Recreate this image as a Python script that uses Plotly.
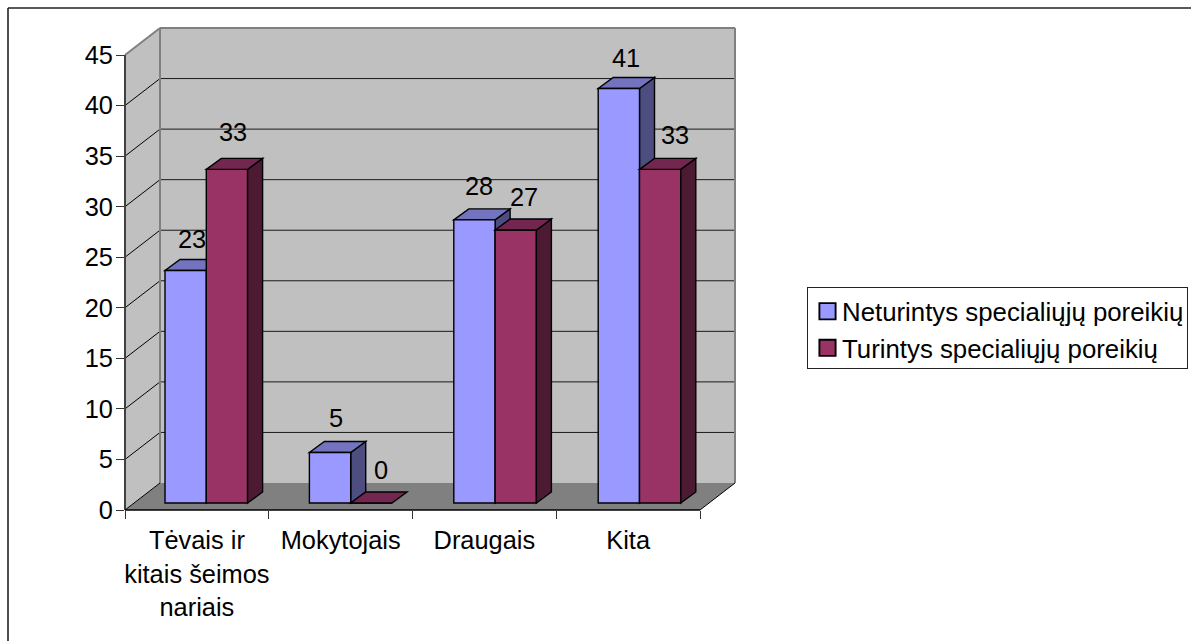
import plotly.graph_objects as go

categories = ["Tėvais ir<br>kitais šeimos<br>nariais", "Mokytojais", "Draugais", "Kita"]
series_a_name = "Neturintys specialiųjų poreikių"
series_b_name = "Turintys specialiųjų poreikių"
series_a = [23, 5, 28, 41]
series_b = [33, 0, 27, 33]
y_ticks = [0, 5, 10, 15, 20, 25, 30, 35, 40, 45]

FONT = "Liberation Sans, Arial, sans-serif"
FS = 25.4
FS_LEG = 25.8
W, H = 1191, 641
L, R, T, B = 125, 735, 28, 510          # plot area in pixels
PXX = 575 / 4                            # pixels per category
PXY = 455 / 45                           # pixels per y unit
WALL_DX, WALL_DY = 35, 27                # depth of the box
BAR_DX, BAR_DY = 15, 11                  # depth of the bars
BASE = 7 / PXY                           # bars stand a little behind the axis
BAR_W = 41.3 / PXX
PITCH = 144.4 / PXX                      # bar groups sit on the receding floor
OFF_A = (165 - L) / PXX
OFF_B = OFF_A + BAR_W

A_FRONT, A_TOP, A_SIDE = "#9999FF", "#7373BF", "#4D4D80"
B_FRONT, B_TOP, B_SIDE = "#993366", "#732650", "#4D1A33"
LINE = 1.4

def px(xp):
    return (xp - L) / (R - L)

def py(yp):
    return (B - yp) / (B - T)

def poly(points, fill, layer, line_color="black", line_width=LINE, xref="x", yref="y"):
    path = "M" + " L".join(f"{a},{b}" for a, b in points) + " Z"
    return dict(type="path", path=path, fillcolor=fill, layer=layer, xref=xref, yref=yref,
                line=dict(color=line_color, width=line_width))

def seg(p, q, color, width, layer="below"):
    return dict(type="line", xref="paper", yref="paper", x0=px(p[0]), y0=py(p[1]),
                x1=px(q[0]), y1=py(q[1]), layer=layer, line=dict(color=color, width=width))

def faces(i, value, offset, top, side, layer):
    """Top and side faces of a bar, from its value, through the data axes."""
    x0 = i * PITCH + offset
    x1 = x0 + BAR_W
    y1 = BASE + value
    ddx, ddy = BAR_DX / PXX, BAR_DY / PXY
    out = []
    if value > 0:
        out.append(poly([(x1, BASE), (x1 + ddx, BASE + ddy), (x1 + ddx, y1 + ddy), (x1, y1)], side, layer))
    out.append(poly([(x0, y1), (x1, y1), (x1 + ddx, y1 + ddy), (x0 + ddx, y1 + ddy)], top, layer))
    return out

shapes = []
# box walls and floor
paper = dict(xref="paper", yref="paper", line_color="#808080", line_width=0)
wall_left = [(px(L), py(55)), (px(L + WALL_DX), py(T)), (px(L + WALL_DX), py(B - WALL_DY)), (px(L), py(B))]
wall_back = [(px(L + WALL_DX), py(T)), (px(R), py(T)), (px(R), py(B - WALL_DY)), (px(L + WALL_DX), py(B - WALL_DY))]
floor = [(px(L), py(B)), (px(L + WALL_DX), py(B - WALL_DY)), (px(R), py(B - WALL_DY)), (px(700), py(B))]
shapes.append(poly(wall_left, "#C0C0C0", "below", **paper))
shapes.append(poly(wall_back, "#C0C0C0", "below", **paper))
shapes.append(poly(floor, "#808080", "below", **paper))
# gridlines on the back and left walls
for v in y_ticks[1:-1]:
    yb = B - v * PXY
    shapes.append(seg((L, yb), (L + WALL_DX, yb - WALL_DY), "black", 1))
    shapes.append(seg((L + WALL_DX, yb - WALL_DY), (R, yb - WALL_DY), "#1a1a1a", 1))
# box edges
shapes.append(seg((L, 55), (L + WALL_DX, T), "#808080", 2))
shapes.append(seg((L + WALL_DX, T), (R, T), "#808080", 2))
shapes.append(seg((L + WALL_DX, T), (L + WALL_DX, B - WALL_DY), "#808080", 2))
shapes.append(seg((R, T), (R, B - WALL_DY), "#808080", 2))
shapes.append(seg((L, B), (L + WALL_DX, B - WALL_DY), "black", 1))
shapes.append(seg((700, B), (R, B - WALL_DY), "black", 1))
# axis lines
shapes.append(seg((L, 55), (L, B), "#404040", 2, "above"))
shapes.append(seg((L, B), (700, B), "black", 1.5, "above"))
# outer frame: only top and left fall inside the window
shapes.append(seg((8, 8), (W, 8), "#222222", 1.6, "above"))
shapes.append(seg((8, 8), (8, H), "#222222", 1.6, "above"))

for i, v in enumerate(series_a):
    for s in faces(i, v, OFF_A, A_TOP, A_SIDE, "between"):
        shapes.append(s)
for i, v in enumerate(series_b):
    for s in faces(i, v, OFF_B, B_TOP, B_SIDE, "above"):
        shapes.append(s)

centers = [i + 0.5 for i in range(len(categories))]
bar_x = [i * PITCH for i in range(len(categories))]

fig = go.Figure()
fig.add_trace(go.Bar(name=series_a_name, x=bar_x, y=series_a, base=[BASE] * 4, width=BAR_W, offset=OFF_A,
                     marker=dict(color=A_FRONT, line=dict(color="black", width=LINE))))
fig.add_trace(go.Bar(name=series_b_name, x=bar_x, y=series_b, base=[BASE] * 4, width=BAR_W, offset=OFF_B,
                     marker=dict(color=B_FRONT, line=dict(color="black", width=LINE))))

nudge_a = [(6, 31), (6, 34), (5, 34), (7, 30)]
nudge_b = [(6, 37), (10, 33), (8, 33), (15, 34)]
annotations = []
for vals, off, nudges in ((series_a, OFF_A, nudge_a), (series_b, OFF_B, nudge_b)):
    for i, v in enumerate(vals):
        annotations.append(dict(x=i * PITCH + off + BAR_W / 2, y=BASE + v, text=str(v), showarrow=False,
                                xref="x", yref="y", xanchor="center", yanchor="middle",
                                xshift=nudges[i][0], yshift=nudges[i][1],
                                font=dict(family=FONT, size=FS, color="black")))

fig.update_layout(
    width=W, height=H, autosize=False,
    margin=dict(l=L, r=W - R, t=T, b=H - B, pad=0, autoexpand=False),
    paper_bgcolor="white", plot_bgcolor="rgba(0,0,0,0)",
    barmode="overlay", showlegend=True, hovermode=False,
    font=dict(family=FONT, size=FS, color="black"),
    shapes=shapes, annotations=annotations,
    xaxis=dict(range=[0, (R - L) / PXX], tickmode="array", tickvals=centers, ticktext=categories,
               ticks="outside", ticklen=8, tickcolor="rgba(0,0,0,0)", showgrid=False, zeroline=False,
               showline=False, tickangle=0, tickfont=dict(family=FONT, size=FS),
               minor=dict(tickmode="array", tickvals=list(range(len(categories) + 1)), ticks="outside",
                          ticklen=8, tickcolor="#333333", tickwidth=1.2, showgrid=False)),
    yaxis=dict(range=[0, (B - T) / PXY], tickmode="array", tickvals=y_ticks, ticks="outside", ticklen=8,
               tickcolor="#333333", tickwidth=1.2, showgrid=False, zeroline=False, showline=False,
               ticklabelstandoff=-2, tickfont=dict(family=FONT, size=FS)),
    legend=dict(x=px(807), y=py(287), xanchor="left", yanchor="top", bgcolor="white", bordercolor="#222222",
                borderwidth=1, font=dict(family=FONT, size=FS_LEG), itemwidth=30, traceorder="normal"),
)

# The legend stays native; these lines only tighten its box, text inset and swatch size.
legend_js = """
document.body.style.margin='0';
document.documentElement.style.overflow='hidden';
var lg=document.querySelector('.legend');
if(lg){
  var bg=lg.querySelector('rect.bg');
  if(bg){bg.setAttribute('width',380);bg.setAttribute('height',81);}
  lg.querySelectorAll('text.legendtext').forEach(function(t){
    t.setAttribute('x',parseFloat(t.getAttribute('x'))-6);
  });
  lg.querySelectorAll('.legendpoints path').forEach(function(p){
    p.setAttribute('transform','translate(19.5,0) scale(1.35)');
  });
}
"""
fig.write_html("out.html", config={"displayModeBar": False}, post_script=legend_js)
